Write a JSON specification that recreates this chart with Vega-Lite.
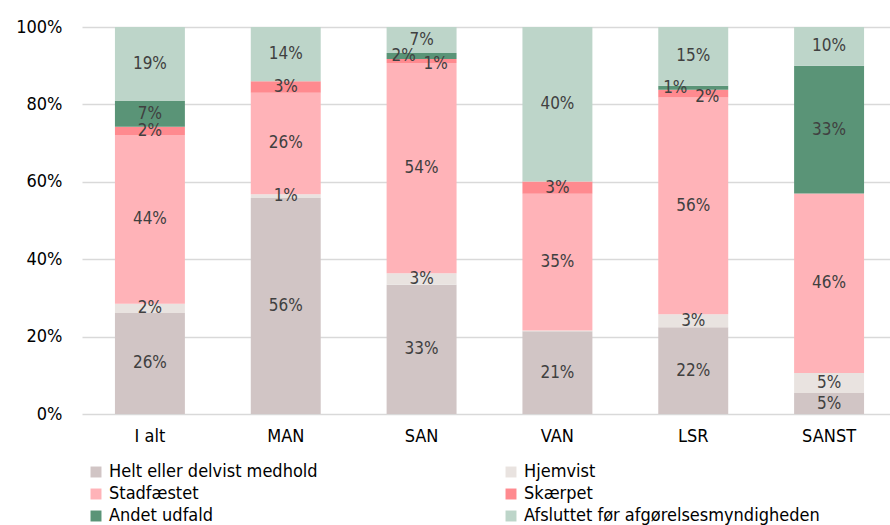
{
  "$schema": "https://vega.github.io/schema/vega-lite/v6.json",
  "autosize": {"type": "none"},
  "padding": {"left": 82, "top": 27, "right": 0, "bottom": 111},
  "width": 815,
  "height": 387,
  "background": "white",
  "config": {
    "view": {"stroke": null},
    "font": "Liberation Sans Narrow, DejaVu Sans Condensed, Liberation Sans"
  },
  "data": {
    "values": [
      {"cat": "I alt", "series": "Helt eller delvist medhold", "o": 0, "v": 0.261},
      {"cat": "I alt", "series": "Hjemvist", "o": 1, "v": 0.024},
      {"cat": "I alt", "series": "Stadfæstet", "o": 2, "v": 0.436},
      {"cat": "I alt", "series": "Skærpet", "o": 3, "v": 0.021},
      {"cat": "I alt", "series": "Andet udfald", "o": 4, "v": 0.067},
      {"cat": "I alt", "series": "Afsluttet før afgørelsesmyndigheden", "o": 5, "v": 0.191},
      {"cat": "MAN", "series": "Helt eller delvist medhold", "o": 0, "v": 0.558},
      {"cat": "MAN", "series": "Hjemvist", "o": 1, "v": 0.010},
      {"cat": "MAN", "series": "Stadfæstet", "o": 2, "v": 0.262},
      {"cat": "MAN", "series": "Skærpet", "o": 3, "v": 0.030},
      {"cat": "MAN", "series": "Andet udfald", "o": 4, "v": 0.0},
      {"cat": "MAN", "series": "Afsluttet før afgørelsesmyndigheden", "o": 5, "v": 0.140},
      {"cat": "SAN", "series": "Helt eller delvist medhold", "o": 0, "v": 0.334},
      {"cat": "SAN", "series": "Hjemvist", "o": 1, "v": 0.030},
      {"cat": "SAN", "series": "Stadfæstet", "o": 2, "v": 0.543},
      {"cat": "SAN", "series": "Skærpet", "o": 3, "v": 0.010},
      {"cat": "SAN", "series": "Andet udfald", "o": 4, "v": 0.016},
      {"cat": "SAN", "series": "Afsluttet før afgørelsesmyndigheden", "o": 5, "v": 0.067},
      {"cat": "VAN", "series": "Helt eller delvist medhold", "o": 0, "v": 0.214},
      {"cat": "VAN", "series": "Hjemvist", "o": 1, "v": 0.002},
      {"cat": "VAN", "series": "Stadfæstet", "o": 2, "v": 0.353},
      {"cat": "VAN", "series": "Skærpet", "o": 3, "v": 0.032},
      {"cat": "VAN", "series": "Andet udfald", "o": 4, "v": 0.0},
      {"cat": "VAN", "series": "Afsluttet før afgørelsesmyndigheden", "o": 5, "v": 0.399},
      {"cat": "LSR", "series": "Helt eller delvist medhold", "o": 0, "v": 0.224},
      {"cat": "LSR", "series": "Hjemvist", "o": 1, "v": 0.034},
      {"cat": "LSR", "series": "Stadfæstet", "o": 2, "v": 0.560},
      {"cat": "LSR", "series": "Skærpet", "o": 3, "v": 0.020},
      {"cat": "LSR", "series": "Andet udfald", "o": 4, "v": 0.010},
      {"cat": "LSR", "series": "Afsluttet før afgørelsesmyndigheden", "o": 5, "v": 0.152},
      {"cat": "SANST", "series": "Helt eller delvist medhold", "o": 0, "v": 0.054},
      {"cat": "SANST", "series": "Hjemvist", "o": 1, "v": 0.052},
      {"cat": "SANST", "series": "Stadfæstet", "o": 2, "v": 0.464},
      {"cat": "SANST", "series": "Skærpet", "o": 3, "v": 0.0},
      {"cat": "SANST", "series": "Andet udfald", "o": 4, "v": 0.330},
      {"cat": "SANST", "series": "Afsluttet før afgørelsesmyndigheden", "o": 5, "v": 0.100}
    ]
  },
  "transform": [
    {"stack": "v", "groupby": ["cat"], "sort": [{"field": "o", "order": "ascending"}], "as": ["y0", "y1"]},
    {"calculate": "(datum.y0 + datum.y1) / 2", "as": "ymid"}
  ],
  "encoding": {
    "x": {
      "field": "cat", "type": "nominal", "sort": null,
      "scale": {"paddingInner": 0.485, "paddingOuter": 0.2425},
      "axis": {
        "title": null, "labelAngle": 0, "ticks": false, "domain": false,
        "labelFontSize": 18, "labelColor": "#000000", "labelPadding": 13
      }
    }
  },
  "layer": [
    {
      "mark": {"type": "bar"},
      "encoding": {
        "y": {
          "field": "y0", "type": "quantitative",
          "scale": {"domain": [0, 1], "nice": false},
          "axis": {
            "title": null, "format": ".0%", "values": [0, 0.2, 0.4, 0.6, 0.8, 1], "labelOverlap": false,
            "grid": true, "gridColor": "#d9d9d9", "gridWidth": 1.5, "domain": false, "ticks": false,
            "labelFontSize": 18, "labelColor": "#000000", "labelPadding": 20
          }
        },
        "y2": {"field": "y1"},
        "color": {
          "field": "series", "type": "nominal",
          "scale": {
            "domain": ["Helt eller delvist medhold", "Stadfæstet", "Andet udfald", "Hjemvist", "Skærpet", "Afsluttet før afgørelsesmyndigheden"],
            "range": ["#d1c5c5", "#ffb3b8", "#5a9477", "#e9e3e0", "#ff8a8f", "#bdd5c9"]
          },
          "legend": {
            "title": null, "orient": "none", "legendX": 5, "legendY": 436,
            "columns": 2, "columnPadding": 184, "rowPadding": 4,
            "symbolType": "square", "symbolSize": 120, "symbolStrokeWidth": 0,
            "labelFontSize": 18, "labelColor": "#000000", "labelLimit": 400, "labelOffset": 4
          }
        }
      }
    },
    {
      "transform": [
        {"filter": "datum.v >= 0.005"},
        {"filter": "!((datum.cat == 'SAN' || datum.cat == 'LSR') && (datum.o == 3 || datum.o == 4))"}
      ],
      "mark": {"type": "text", "fontSize": 17, "color": "#404040", "baseline": "middle"},
      "encoding": {
        "y": {"field": "ymid", "type": "quantitative"},
        "text": {"field": "v", "type": "quantitative", "format": ".0%"}
      }
    },
    {
      "transform": [{"filter": "(datum.cat == 'SAN' && datum.o == 4) || (datum.cat == 'LSR' && datum.o == 4)"}],
      "mark": {"type": "text", "fontSize": 17, "color": "#404040", "baseline": "middle", "dx": -18},
      "encoding": {
        "y": {"field": "ymid", "type": "quantitative"},
        "text": {"field": "v", "type": "quantitative", "format": ".0%"}
      }
    },
    {
      "transform": [{"filter": "(datum.cat == 'SAN' && datum.o == 3) || (datum.cat == 'LSR' && datum.o == 3)"}],
      "mark": {"type": "text", "fontSize": 17, "color": "#404040", "baseline": "middle", "dx": 14, "dy": 3},
      "encoding": {
        "y": {"field": "ymid", "type": "quantitative"},
        "text": {"field": "v", "type": "quantitative", "format": ".0%"}
      }
    }
  ]
}
